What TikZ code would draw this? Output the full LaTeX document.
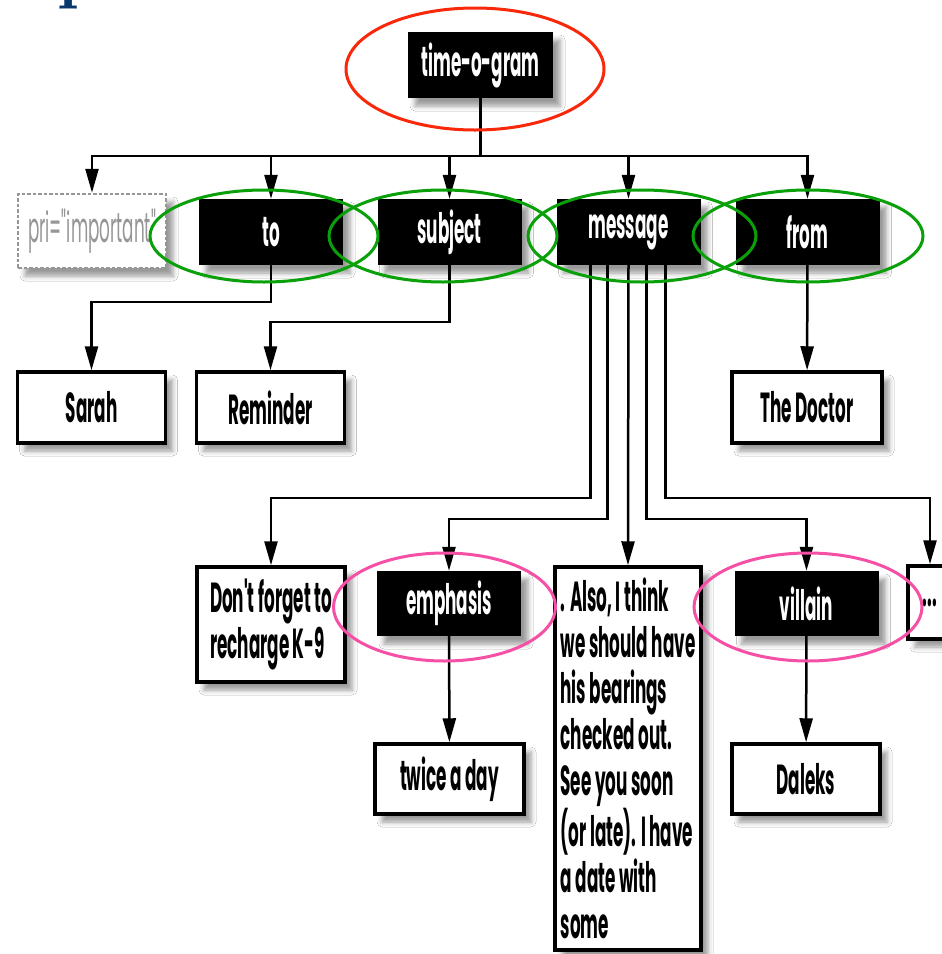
\documentclass[tikz,border=0pt]{standalone}
\usepackage{fontspec}
\newfontfamily\futfont[FakeStretch=0.40]{Poppins}
\usetikzlibrary{arrows.meta,shadows.blur}

\definecolor{ringred}{RGB}{250,40,10}
\definecolor{ringgreen}{RGB}{10,160,10}
\definecolor{ringpink}{RGB}{245,80,165}
\definecolor{titleblue}{RGB}{8,55,110}
\definecolor{prigray}{RGB}{150,150,150}

\tikzset{bnode/.style = {shape = rectangle,
                         fill = black,
                         text = white,
                         inner sep = 0pt,
                         minimum width = 144pt,
                         minimum height = 66pt,
                         font = \futfont\bfseries\fontsize{42}{45}\selectfont,
                         blur shadow = {shadow xshift = 7pt,
                                        shadow yshift = -8pt,
                                        shadow blur radius = 5pt,
                                        shadow opacity = 40}},
         wnode/.style = {shape = rectangle,
                         fill = white,
                         draw = black,
                         line width = 3.5pt,
                         inner sep = 0pt,
                         minimum width = 148pt,
                         minimum height = 71pt,
                         font = \futfont\bfseries\fontsize{42}{46}\selectfont,
                         blur shadow = {shadow xshift = 7pt,
                                        shadow yshift = -8pt,
                                        shadow blur radius = 5pt,
                                        shadow opacity = 40}},
         pnode/.style = {wnode,
                         draw = prigray,
                         dotted,
                         line width = 2.5pt,
                         text = prigray,
                         font = \futfont\fontsize{42}{46}\selectfont,
                         minimum height = 74pt},
         arr/.style = {-{Triangle[length = 24pt, width = 13pt]},
                       line width = 2.5pt},
         ring/.style = {line width = 3pt}}

\begin{document}
\begin{tikzpicture}[x=1pt,y=-1pt]
\fill[white] (0,0) rectangle (942,954);
\useasboundingbox (0,0) rectangle (942,954);

% cut-off title letter
\node[anchor = south, inner sep = 0pt, text = titleblue,
      font = \bfseries\fontsize{70}{70}\selectfont] (ptitle) at (79,9) {p};

% root
\node[bnode, minimum width = 145pt] (tog) at (480.5,65) {time-o-gram};

% first level
\node[pnode] (pri) at (92,231) {pri="important"};
\node[bnode] (to) at (271,232) {to};
\node[bnode] (subject) at (449.5,232) {subject};
\node[bnode] (message) at (628.5,232) {message};
\node[bnode] (from) at (807.5,232) {from};

% second level
\node[wnode] (sarah) at (91.5,407.5) {Sarah};
\node[wnode] (reminder) at (270.5,407.5) {Reminder};
\node[wnode, minimum width = 150pt] (doctor) at (807,407.5) {The Doctor};

% message content
\node[wnode, align = left, minimum height = 115pt] (forget) at (271,624.5)
    {Don't forget to\\recharge K-9};
\node[bnode, minimum height = 65pt] (emph) at (449,603.5) {emphasis};
\node[wnode, align = left, minimum width = 146pt, minimum height = 383pt] (msgtext) at (628,758.5)
    {. Also, I think\\we should have\\his bearings\\checked out.\\See you soon\\(or late). I have\\a date with\\some};
\node[bnode, minimum height = 65pt] (villain) at (806.5,603.5) {villain};
\node[wnode, minimum width = 44pt, minimum height = 73pt] (dots) at (930,602.5) {...};

\node[wnode, minimum width = 149pt, minimum height = 70pt] (twice) at (449.5,779) {twice a day};
\node[wnode, minimum height = 70pt] (daleks) at (806,779) {Daleks};

% connectors
\coordinate (bar) at (480.5,156);
\foreach \n in {pri,to,subject,message,from}
    \draw[arr] (tog.south) -- (tog.south |- bar) -| (\n.north);

\draw[arr] (to.south) -- ++(0,37) -| (sarah.north);
\draw[arr] (subject.south) -- ++(0,57) -| (reminder.north);
\draw[arr] (from) -- (doctor);

\draw[arr] ([xshift = -38pt]message.south) -- ++(0,233) -| (forget.north);
\draw[arr] ([xshift = -21pt]message.south) -- ++(0,254) -| (emph.north);
\draw[arr] (message.south) -- (msgtext.north);
\draw[arr] ([xshift = 18pt]message.south) -- ++(0,254) -| (villain.north);
\draw[arr] ([xshift = 37pt]message.south) -- ++(0,233) -| (dots.north);

\draw[arr] (emph) -- (twice);
\draw[arr] (villain) -- (daleks);

% highlight rings
\draw[ring, ringred] (475,69) ellipse [x radius = 129pt, y radius = 61pt];
\foreach \x/\r in {264/114, 443/114, 642/114, 808/115}
    \draw[ring, ringgreen] (\x,236) ellipse [x radius = \r pt, y radius = 46pt];
\draw[ring, ringpink] (444.5,607) ellipse [x radius = 111pt, y radius = 54pt];
\draw[ring, ringpink] (808,607) ellipse [x radius = 114pt, y radius = 54pt];
\end{tikzpicture}
\end{document}
